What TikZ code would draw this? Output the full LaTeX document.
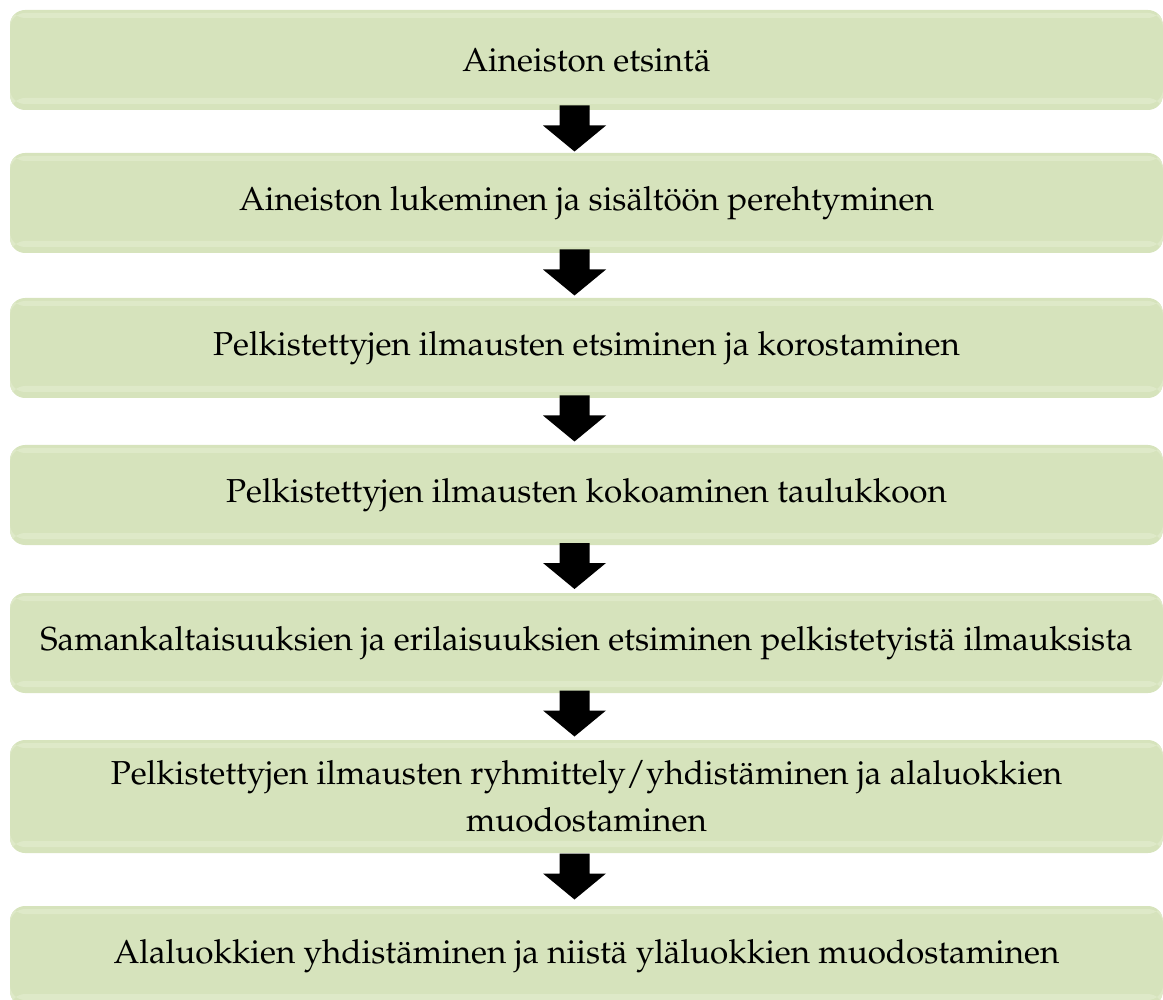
\documentclass[tikz,border=0pt]{standalone}
\usepackage[T1]{fontenc}
\usepackage{mathpazo}
\usetikzlibrary{calc}

\definecolor{boxgreen}{HTML}{D6E3BC}
\definecolor{boxlight}{HTML}{DEE9C8}

\tikzset{
  stage/.style={rounded corners=7.5pt, fill=boxgreen, minimum width=576.5pt,
    minimum height=50pt, inner sep=0pt, align=center,
    font=\fontsize{16.6}{23.5}\selectfont,
    path picture={
      \fill[boxlight] ([yshift=-1.5pt]path picture bounding box.north west)
        rectangle ([yshift=-4pt]path picture bounding box.north east);
      \fill[boxlight] ([yshift=3pt]path picture bounding box.south west)
        rectangle ([yshift=6pt]path picture bounding box.south east);
    }},
  flow/.style={fill=black}
}

\begin{document}
\begin{tikzpicture}[x=0.5pt,y=-0.5pt]
\useasboundingbox (0,0) rectangle (1163,1000);
% vaiheet
\node[stage] (b1) at (586.5,60) {Aineiston etsintä};
\node[stage] (b2) at (586.5,203) {Aineiston lukeminen ja sisältöön perehtyminen};
\node[stage] (b3) at (586.5,348) {Pelkistettyjen ilmausten etsiminen ja korostaminen};
\node[stage] (b4) at (586.5,495) {Pelkistettyjen ilmausten kokoaminen taulukkoon};
\node[stage] (b5) at (586.5,643) {Samankaltaisuuksien ja erilaisuuksien etsiminen pelkistetyistä ilmauksista};
\node[stage, minimum height=56.5pt] (b6) at (586.5,796.5)
  {Pelkistettyjen ilmausten ryhmittely/yhdistäminen ja alaluokkien\\ muodostaminen};
\node[stage] (b7) at (586.5,956) {Alaluokkien yhdistäminen ja niistä yläluokkien muodostaminen};
% nuolet
\foreach \a/\b in {b1/b2, b2/b3, b3/b4, b4/b5, b5/b6, b6/b7}{
  \coordinate (m) at ($(\a.south)!0.5!(\b.north)+(-12,-3)$);
  \fill[flow] ($(m)+(-15,-23)$) -- ($(m)+(15,-23)$) -- ($(m)+(15,-3)$)
    -- ($(m)+(31.5,-3)$) -- ($(m)+(0,23)$) -- ($(m)+(-31.5,-3)$)
    -- ($(m)+(-15,-3)$) -- cycle;
}
\end{tikzpicture}
\end{document}
